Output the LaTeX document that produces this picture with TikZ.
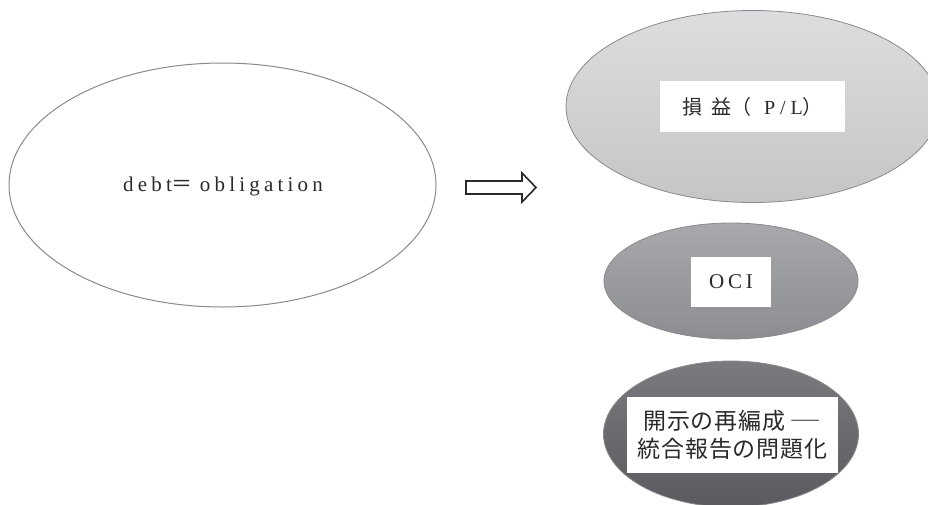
\documentclass[tikz,border=0pt]{standalone}
\usepackage{fontspec}
\usepackage{graphicx}
\setmainfont{Liberation Serif}
\newfontfamily\latspaced[LetterSpace=18]{Liberation Serif}
\newfontfamily\latdebt[LetterSpace=20]{Liberation Serif}
\newfontfamily\latPL[LetterSpace=25]{Liberation Serif}
\newfontfamily\cjk{Noto Sans CJK JP}
\newfontfamily\cjkspaced[LetterSpace=4]{Noto Sans CJK JP}
\usetikzlibrary{shapes.geometric}
\definecolor{plTop}{HTML}{DCDDDF}
\definecolor{plBot}{HTML}{C4C5C7}
\definecolor{ociTop}{HTML}{A8A9AC}
\definecolor{ociBot}{HTML}{8C8D90}
\definecolor{discTop}{HTML}{7A7B7E}
\definecolor{discBot}{HTML}{5A5B5E}
\definecolor{edge}{HTML}{8A8A8C}
\definecolor{ink}{HTML}{2A2A2A}
\tikzset{
  oval/.style={ellipse, draw=edge, line width=0.8pt, inner sep=0pt},
  label box/.style={fill=white, inner sep=0pt, align=center, text=ink},
}
\begin{document}
\begin{tikzpicture}[x=1pt,y=-1pt]
\useasboundingbox (0,0) rectangle (928,504);
% left ellipse
\node[oval, fill=white, line width=1pt, minimum width=427pt, minimum height=244pt] (debt) at (222.5,185) {};
\node[text=ink, inner sep=0pt] (debttext) at (223,186) {\fontsize{21}{24}\selectfont\latdebt debt{\cjk ＝}\hspace{7pt}obligation};
% hollow block arrow
\coordinate (a1) at (466,181);
\coordinate (a2) at (522,181);
\coordinate (a3) at (522,173);
\coordinate (tip) at (536,187.5);
\coordinate (a5) at (522,202);
\coordinate (a6) at (522,194);
\coordinate (a7) at (466,194);
\draw[ink, line width=1.6pt, fill=white, line join=miter] (a1) -- (a2) -- (a3) -- (tip) -- (a5) -- (a6) -- (a7) -- cycle;
% top right ellipse
\node[oval, top color=plTop, bottom color=plBot, minimum width=373pt, minimum height=192pt] (pl) at (752.5,106.5) {};
\node[label box, minimum width=185pt, minimum height=51pt] (pltext) at (752.5,106.5) {\fontsize{20}{24}\selectfont{\cjk 損\hspace{9pt}益（}\hspace{13pt}{\latPL P/L}\hspace{0pt}{\cjk ）}};
% OCI ellipse
\node[oval, top color=ociTop, bottom color=ociBot, minimum width=254pt, minimum height=116pt] (oci) at (731,281) {};
\node[label box, minimum width=80pt, minimum height=50pt] (ocitext) at (731,282) {\fontsize{21}{24}\selectfont\latspaced OCI};
% bottom ellipse
\node[oval, top color=discTop, bottom color=discBot, minimum width=255pt, minimum height=146pt] (disc) at (731,434) {};
\node[label box, minimum width=211pt, minimum height=76pt, font=\cjkspaced\fontsize{23}{28}\selectfont] (disctext) at (732.5,435) {開示の再編成\hspace{4pt}\scalebox{1.4}[1]{―}\\統合報告の問題化};
\end{tikzpicture}
\end{document}
